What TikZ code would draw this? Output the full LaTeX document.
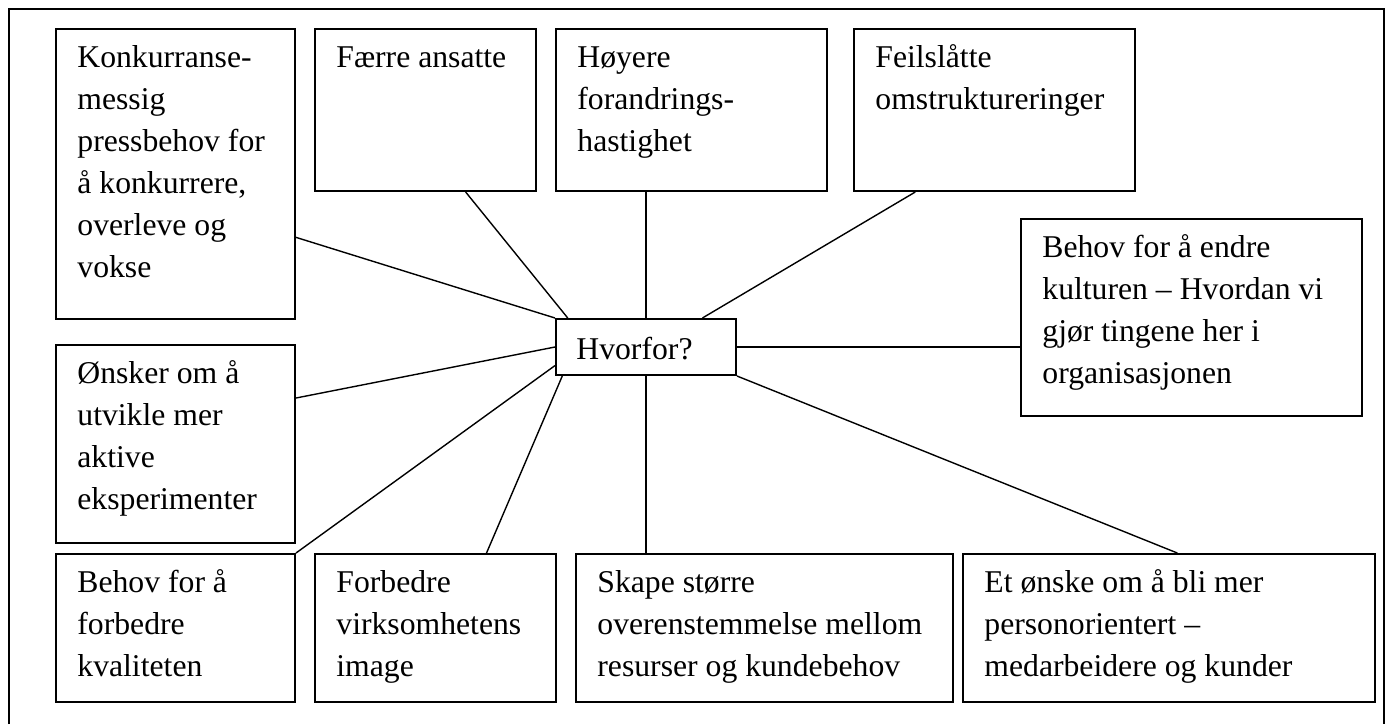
\documentclass[tikz,border=0pt]{standalone}
\usepackage{fontspec}
\setmainfont{Liberation Serif}
\usepackage{tikz}
\usetikzlibrary{calc,fit}
\tikzset{
  cause/.style={draw,line width=1pt,inner sep=0pt},
  causetext/.style={anchor=north west,align=left,inner sep=0pt,font=\fontsize{15.85}{21}\selectfont},
  link/.style={line width=0.7pt}
}

\begin{document}
\begin{tikzpicture}[x=0.5pt,y=-0.5pt]
  \useasboundingbox (0,0) rectangle (1390,724);
  \draw[line width=1pt] (8.5,724) -- (8.5,8.5) -- (1383.5,8.5) -- (1383.5,724);
  \foreach \nm/\xa/\ya/\xb/\yb/\txt in {
    press/56/29/295/319/{Konkurranse-\\messig\\pressbehov for\\å konkurrere,\\overleve og\\vokse},
    fewer/315/29/536/191/{Færre ansatte},
    speed/556/29/827/191/{Høyere\\forandrings-\\hastighet},
    restr/854/29/1135/191/{Feilslåtte\\omstruktureringer},
    culture/1021/219/1362/416/{Behov for å endre\\kulturen – Hvordan vi\\gjør tingene her i\\organisasjonen},
    exper/56/345/295/543/{Ønsker om å\\utvikle mer\\aktive\\eksperimenter},
    quality/56/554/295/702/{Behov for å\\forbedre\\kvaliteten},
    image/315/554/556/702/{Forbedre\\virksomhetens\\image},
    match/576/554/953/702/{Skape større\\overenstemmelse mellom\\resurser og kundebehov},
    people/963/554/1375/702/{Et ønske om å bli mer\\personorientert –\\medarbeidere og kunder}} {
    \node[cause,fit={(\xa,\ya) (\xb,\yb)}] (\nm) {};
    \node[causetext] (\nm-txt) at ([shift={(22,9.6)}]\nm.north west) {\strut\txt};
  }
  \node[cause,fit={(556,319) (736,375)}] (why) {};
  \node[causetext] (why-txt) at ([shift={(21,11.6)}]why.north west) {\strut Hvorfor?};
  \draw[link] ($(press.north east)!0.717!(press.south east)$) -- (why.north west);
  \draw[link] ($(fewer.south west)!0.68!(fewer.south east)$) -- ($(why.north west)!0.07!(why.north east)$);
  \draw[link] (why.north) -- (why.north |- speed.south);
  \draw[link] ($(restr.south west)!0.22!(restr.south east)$) -- ($(why.north west)!0.81!(why.north east)$);
  \draw[link] (why.east) -- (why.east -| culture.west);
  \draw[link] ($(exper.north east)!0.27!(exper.south east)$) -- (why.west);
  \draw[link] (quality.north east) -- ($(why.north west)!0.82!(why.south west)$);
  \draw[link] ($(image.north west)!0.71!(image.north east)$) -- ($(why.south west)!0.04!(why.south east)$);
  \draw[link] (why.south) -- (why.south |- match.north);
  \draw[link] ($(people.north west)!0.52!(people.north east)$) -- (why.south east);
\end{tikzpicture}
\end{document}
